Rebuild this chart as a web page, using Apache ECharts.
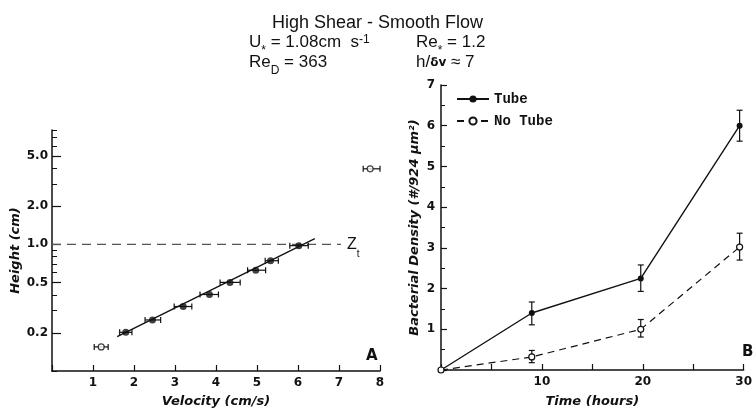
<!DOCTYPE html>
<html>
<head>
<meta charset="utf-8">
<script src="https://cdn.jsdelivr.net/npm/echarts@6/dist/echarts.min.js"></script>
<style>
  html, body { margin: 0; padding: 0; background: #fff; }
  #chart_div { width: 755px; height: 413px; }
</style>
</head>
<body>
<div id="chart_div"></div>
<script>
// 左图 A：速度-高度剖面（高度为对数刻度）
const velFilled = [1.80, 2.45, 3.20, 3.84, 4.34, 4.97, 5.33, 6.02]
const hFilled = [0.202, 0.253, 0.323, 0.402, 0.501, 0.625, 0.743, 0.977]
const velFilledLo = [1.65, 2.27, 2.98, 3.61, 4.10, 4.77, 5.20, 5.80]
const velFilledHi = [1.95, 2.65, 3.41, 4.06, 4.59, 5.21, 5.52, 6.25]
const velOpen = [1.20, 7.76]
const hOpen = [0.155, 3.95]
const velOpenLo = [1.03, 7.59]
const velOpenHi = [1.37, 8.00]
const fitVel = [1.59, 6.41]
const fitH = [0.187, 1.11]
const ztVel = [0, 7.05]
const ztH = [1.0, 1.0]
const heightLabels = [0.2, 0.5, 1.0, 2.0, 5.0]
const heightTicks = [0.1, 0.2, 0.3, 0.4, 0.5, 0.6, 0.7, 0.8, 0.9, 1, 2, 3, 4, 5, 6, 7, 8]

// 右图 B：细菌密度随时间
const hours = [0, 9, 19.8, 29.6]
const tube = [0, 1.40, 2.25, 6.00]
const tubeLo = [null, 1.11, 1.93, 5.62]
const tubeHi = [null, 1.67, 2.58, 6.38]
const noTube = [0, 0.32, 1.00, 3.02]
const noTubeLo = [null, 0.18, 0.81, 2.70]
const noTubeHi = [null, 0.48, 1.24, 3.36]

const lg = Math.log10
const INK = '#111'
const tickFont = { fontFamily: 'DejaVu Sans', fontWeight: 'bold', fontSize: 12, color: INK }
const nameFont = { fontFamily: 'DejaVu Sans', fontWeight: 'bold', fontStyle: 'italic', fontSize: 13, color: INK }

// 水平误差线
function hErrBar(params, api) {
  let y = api.value(1)
  let a = api.coord([api.value(2), y])
  let b = api.coord([api.value(3), y])
  let st = { stroke: INK, lineWidth: 1.2 }
  return {
    type: 'group',
    children: [
      { type: 'line', shape: { x1: a[0], y1: a[1], x2: b[0], y2: b[1] }, style: st },
      { type: 'line', shape: { x1: a[0], y1: a[1] - 3, x2: a[0], y2: a[1] + 3 }, style: st },
      { type: 'line', shape: { x1: b[0], y1: b[1] - 3, x2: b[0], y2: b[1] + 3 }, style: st }
    ]
  }
}

// 竖直误差线
function vErrBar(params, api) {
  let x = api.value(0)
  let a = api.coord([x, api.value(1)])
  let b = api.coord([x, api.value(2)])
  let st = { stroke: INK, lineWidth: 1.2 }
  return {
    type: 'group',
    children: [
      { type: 'line', shape: { x1: a[0], y1: a[1], x2: b[0], y2: b[1] }, style: st },
      { type: 'line', shape: { x1: a[0] - 3, y1: a[1], x2: a[0] + 3, y2: a[1] }, style: st },
      { type: 'line', shape: { x1: b[0] - 3, y1: b[1], x2: b[0] + 3, y2: b[1] }, style: st }
    ]
  }
}

let hErrData = []
for (let i = 0; i < velFilled.length; i++) {
  hErrData.push([velFilled[i], lg(hFilled[i]), velFilledLo[i], velFilledHi[i]])
}
for (let i = 0; i < velOpen.length; i++) {
  hErrData.push([velOpen[i], lg(hOpen[i]), velOpenLo[i], velOpenHi[i]])
}

function vErr(lo, hi) {
  let out = []
  for (let i = 0; i < hours.length; i++) {
    if (lo[i] == null) continue
    out.push([hours[i], lo[i], hi[i]])
  }
  return out
}

const pairs = (xs, ys, f) => xs.map((x, i) => [x, f ? f(ys[i]) : ys[i]])

const titleRich = {
  sub: { fontSize: 12, fontFamily: 'Liberation Sans', color: INK, verticalAlign: 'bottom', padding: [0, 0, -6, 0] },
  sup: { fontSize: 12, fontFamily: 'Liberation Sans', color: INK, verticalAlign: 'top', lineHeight: 12 },
  sm: { fontSize: 12, fontFamily: 'DejaVu Sans', fontWeight: 'bold', color: INK }
}
const tStyle = { fontFamily: 'Liberation Sans', fontSize: 17, fontWeight: 'normal', color: INK, rich: titleRich }

var myChart = echarts.init(document.getElementById('chart_div'))
myChart.setOption({
  animation: false,
  title: [
    { text: 'High Shear - Smooth Flow', left: 'center', top: 9, textStyle: { ...tStyle, fontSize: 18 } },
    { text: 'U{sub|*} = 1.08cm  s{sup|-1}', left: 249, top: 34, padding: 0, textStyle: tStyle },
    { text: 'Re{sub|D} = 363', left: 249, top: 54, padding: 0, textStyle: tStyle },
    { text: 'Re{sub|*} = 1.2', left: 416, top: 34, padding: 0, textStyle: tStyle },
    { text: 'h/{sm|δv} ≈ 7', left: 416, top: 54, padding: 0, textStyle: tStyle },
    { text: 'A', left: 366, top: 349, padding: 0, textStyle: { fontFamily: 'DejaVu Sans', fontWeight: 'bold', fontSize: 15, color: INK } },
    { text: 'B', left: 742, top: 345, padding: 0, textStyle: { fontFamily: 'DejaVu Sans', fontWeight: 'bold', fontSize: 15, color: INK } }
  ],
  legend: {
    data: ['Tube', 'No Tube'],
    orient: 'vertical',
    left: 456,
    top: 92,
    itemWidth: 32,
    itemHeight: 9,
    itemGap: 8,
    padding: 0,
    textStyle: { fontFamily: 'Liberation Mono', fontWeight: 'bold', fontSize: 14, color: INK }
  },
  grid: [
    { left: 52, right: 375, top: 130, bottom: 38 },
    { left: 441, right: 3, top: 85, bottom: 39 }
  ],
  xAxis: [
    {
      gridIndex: 0, type: 'value', min: 0, max: 8, interval: 1,
      name: 'Velocity (cm/s)', nameLocation: 'middle', nameGap: 24, nameTextStyle: nameFont,
      axisLine: { onZero: false, lineStyle: { color: INK, width: 1.5 } },
      axisTick: { inside: true, length: 6, lineStyle: { color: INK, width: 1.2 } },
      axisLabel: { ...tickFont, margin: 6, formatter: v => v > 0 ? String(v) : '' },
      splitLine: { show: false }
    },
    {
      gridIndex: 1, type: 'value', min: 0, max: 30, interval: 5,
      name: 'Time (hours)', nameLocation: 'middle', nameGap: 25, nameTextStyle: nameFont,
      axisLine: { onZero: false, lineStyle: { color: INK, width: 1.5 } },
      axisTick: { inside: true, length: 6, lineStyle: { color: INK, width: 1.2 } },
      axisLabel: { ...tickFont, margin: 6, formatter: v => (v > 0 && v % 10 === 0) ? String(v) : '' },
      splitLine: { show: false }
    }
  ],
  yAxis: [
    {
      gridIndex: 0, type: 'value', position: 'left', min: -1, max: lg(8),
      name: 'Height (cm)', nameLocation: 'middle', nameGap: 30, nameTextStyle: nameFont,
      axisLine: { show: true, onZero: false, lineStyle: { color: INK, width: 1.5 } },
      axisTick: { show: true, inside: true, length: 9, customValues: heightLabels.map(lg), lineStyle: { color: INK, width: 1.2 } },
      axisLabel: { ...tickFont, margin: 4, customValues: heightLabels.map(lg), formatter: v => Math.pow(10, v).toFixed(1) },
      splitLine: { show: false }
    },
    {
      gridIndex: 0, type: 'value', position: 'left', min: -1, max: lg(8),
      axisLine: { show: false, onZero: false },
      axisTick: { show: true, inside: true, length: 5, customValues: heightTicks.map(lg), lineStyle: { color: INK, width: 1 } },
      axisLabel: { show: false },
      splitLine: { show: false }
    },
    {
      gridIndex: 1, type: 'value', min: 0, max: 7, interval: 1,
      name: 'Bacterial Density (#/924 μm²)', nameLocation: 'middle', nameGap: 20, nameTextStyle: nameFont,
      axisLine: { show: true, onZero: false, lineStyle: { color: INK, width: 1.5 } },
      axisTick: { show: true, inside: true, length: 6, lineStyle: { color: INK, width: 1.2 } },
      minorTick: { show: true, splitNumber: 2, length: 4, lineStyle: { color: INK, width: 1 } },
      axisLabel: { ...tickFont, margin: 6, formatter: v => v > 0 ? String(v) : '' },
      splitLine: { show: false }
    }
  ],
  series: [
    {
      name: 'zt', type: 'line', xAxisIndex: 0, yAxisIndex: 0, symbol: 'none',
      data: pairs(ztVel, ztH, lg),
      lineStyle: { color: '#555', width: 1.3, type: [9, 6] },
      endLabel: {
        show: true, distance: 6, formatter: 'Z{t|t}', color: INK,
        fontFamily: 'Liberation Sans', fontSize: 16,
        rich: { t: { fontSize: 10, fontFamily: 'Liberation Sans', color: INK, verticalAlign: 'bottom', padding: [0, 0, -7, 0] } }
      },
      z: 1
    },
    {
      name: 'fit', type: 'line', xAxisIndex: 0, yAxisIndex: 0, symbol: 'none',
      data: pairs(fitVel, fitH, lg),
      lineStyle: { color: INK, width: 1.4 }
    },
    {
      name: 'velErr', type: 'custom', xAxisIndex: 0, yAxisIndex: 0,
      renderItem: hErrBar, data: hErrData, clip: false
    },
    {
      name: 'filled', type: 'scatter', xAxisIndex: 0, yAxisIndex: 0,
      symbol: 'circle', symbolSize: 7, itemStyle: { color: INK },
      data: pairs(velFilled, hFilled, lg)
    },
    {
      name: 'open', type: 'scatter', xAxisIndex: 0, yAxisIndex: 0,
      symbol: 'circle', symbolSize: 6, itemStyle: { color: '#fff', borderColor: INK, borderWidth: 1.2 },
      data: pairs(velOpen, hOpen, lg)
    },
    {
      name: 'tubeErr', type: 'custom', xAxisIndex: 1, yAxisIndex: 2,
      renderItem: vErrBar, data: vErr(tubeLo, tubeHi)
    },
    {
      name: 'noTubeErr', type: 'custom', xAxisIndex: 1, yAxisIndex: 2,
      renderItem: vErrBar, data: vErr(noTubeLo, noTubeHi)
    },
    {
      name: 'Tube', type: 'line', xAxisIndex: 1, yAxisIndex: 2,
      symbol: 'circle', symbolSize: 6,
      itemStyle: { color: INK },
      lineStyle: { color: INK, width: 1.4 },
      data: pairs(hours, tube)
    },
    {
      name: 'No Tube', type: 'line', xAxisIndex: 1, yAxisIndex: 2,
      symbol: 'circle', symbolSize: 6,
      itemStyle: { color: '#fff', borderColor: INK, borderWidth: 1.2 },
      lineStyle: { color: INK, width: 1.2, type: [7, 5] },
      data: pairs(hours, noTube)
    }
  ]
})
</script>
</body>
</html>
